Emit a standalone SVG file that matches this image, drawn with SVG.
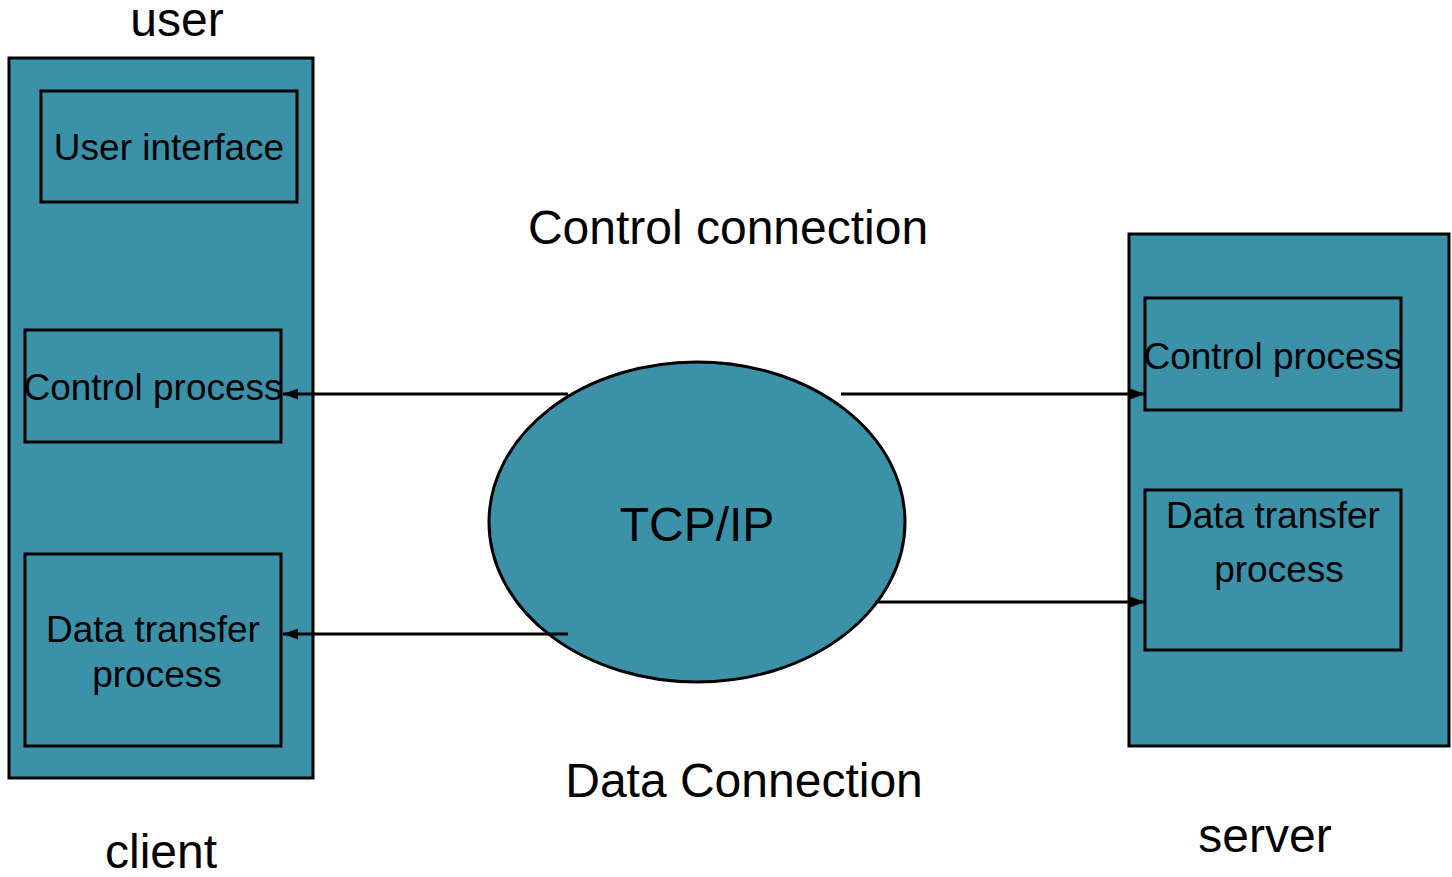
<svg xmlns="http://www.w3.org/2000/svg" width="1452" height="877" viewBox="0 0 1452 877">
<style>
.box{fill:#3A91A8;stroke:#000;stroke-width:3}
.t{font-family:"Liberation Sans",Arial,sans-serif;fill:#000;text-anchor:middle}
.big{font-size:48px}
.sm{font-size:37px}
.c{stroke:#000;stroke-width:3;fill:none}
</style>
<defs>
<marker id="ah" viewBox="0 0 15 11" refX="15" refY="5.5" markerWidth="15" markerHeight="11" markerUnits="userSpaceOnUse" orient="auto">
<path d="M0,0 L15,5.5 L0,11 Z" fill="#000"/>
</marker>
</defs>
<rect width="1452" height="877" fill="#fff"/>
<g id="client">
<rect class="box" x="9" y="58" width="304" height="720"/>
<text class="t big" x="161" y="868">client</text>
</g>
<text class="t big" x="177" y="36">user</text>
<g id="user-interface">
<rect class="box" x="41" y="91" width="256" height="111"/>
<text class="t sm" x="169" y="160">User interface</text>
</g>
<g id="client-control">
<rect class="box" x="25" y="330" width="256" height="112"/>
<text class="t sm" x="153" y="400">Control process</text>
</g>
<g id="client-data">
<rect class="box" x="25" y="554" width="256" height="192"/>
<text class="t sm" x="153" y="642">Data transfer</text>
<text class="t sm" x="157" y="687">process</text>
</g>
<g id="server">
<rect class="box" x="1129" y="234" width="320" height="512"/>
<text class="t big" x="1265" y="852">server</text>
</g>
<g id="server-control">
<rect class="box" x="1145" y="298" width="256" height="112"/>
<text class="t sm" x="1273" y="369">Control process</text>
</g>
<g id="server-data">
<rect class="box" x="1145" y="490" width="256" height="160"/>
<text class="t sm" x="1273" y="528">Data transfer</text>
<text class="t sm" x="1279" y="582">process</text>
</g>
<g id="tcpip">
<ellipse class="box" cx="697" cy="522" rx="208" ry="160" stroke-width="2.5"/>
<text class="t big" x="697" y="541">TCP/IP</text>
</g>
<text class="t big" x="728" y="244">Control connection</text>
<text class="t big" x="744" y="797">Data Connection</text>
<g id="connectors">
<line class="c" x1="568" y1="394" x2="283" y2="394" marker-end="url(#ah)"/>
<line class="c" x1="841" y1="394" x2="1145" y2="394" marker-end="url(#ah)"/>
<line class="c" x1="568" y1="634" x2="283" y2="634" marker-end="url(#ah)"/>
<line class="c" x1="875" y1="602" x2="1145" y2="602" marker-end="url(#ah)"/>
</g>
</svg>
